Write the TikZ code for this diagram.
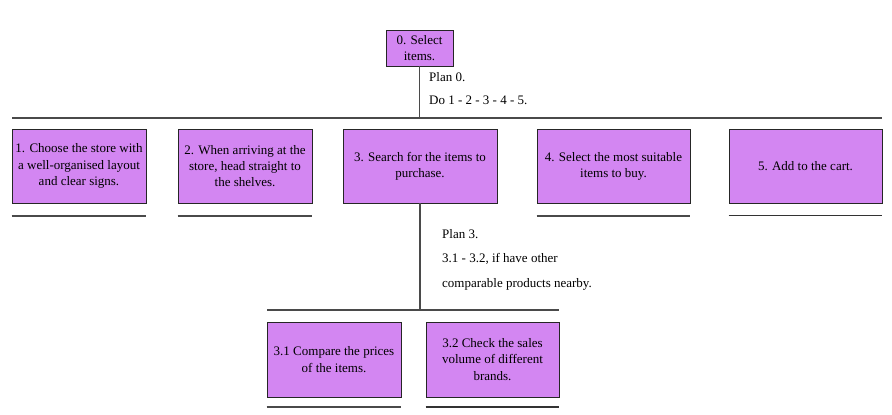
\documentclass[tikz,border=0pt]{standalone}
\usepackage{fontspec}
\setmainfont{Liberation Serif}
\usepackage{xcolor}
\usetikzlibrary{positioning,calc}
\definecolor{taskfill}{HTML}{D386F2}
\definecolor{linegray}{HTML}{4A4A4A}
\tikzset{
    task/.style={draw=black!85, line width=0.8pt, fill=taskfill, align=center, inner sep=1pt,
        minimum height=74pt, font=\fontsize{13}{16.2}\selectfont},
    bus/.style={draw=linegray, line width=2pt},
    stem/.style={draw=linegray, line width=1.4pt},
    underline/.style={draw=linegray, line width=2pt},
    underthin/.style={draw=black!80, line width=1.2pt},
    plan/.style={anchor=base west, align=left, inner sep=0pt}
}

\begin{document}
\begin{tikzpicture}[x=1pt,y=-1pt]
    \useasboundingbox (0,0) rectangle (892,415);

    % top task
    \node[task, minimum width=67pt, minimum height=36pt] (t0) at (419.5,48) {0. Select\\items.};
    \coordinate (bus0l) at (12,117.5);
    \coordinate (bus0r) at (882,117.5);
    \draw[bus] (bus0l) -- (bus0r);
    \draw[stem] (t0.south) -- (t0.south |- bus0l);
    \node[plan, font=\fontsize{13}{23.5}\selectfont] (plan0) at (429,104.5) {Plan 0.\\Do 1 - 2 - 3 - 4 - 5.};

    % subtasks
    \node[task, minimum width=134pt] (t1) at (79,166) {1. Choose the store with\\a well-organised layout\\and clear signs.};
    \node[task, minimum width=134pt] (t2) at (245,166) {2. When arriving at the\\store, head straight to\\the shelves.};
    \node[task, minimum width=154pt] (t3) at (420,166) {3. Search for the items to\\purchase.};
    \node[task, minimum width=153pt] (t4) at (613.5,166) {4. Select the most suitable\\items to buy.};
    \node[task, minimum width=153pt] (t5) at (805.5,166) {5. Add to the cart.};

    % plan 3
    \coordinate (bus3l) at (267,310);
    \coordinate (bus3r) at (559,310);
    \draw[bus] (bus3l) -- (bus3r);
    \draw[stem] (t3.south) -- (t3.south |- bus3l);
    \node[plan, font=\fontsize{13}{24.5}\selectfont] (plan3) at (442,287) {Plan 3.\\3.1 - 3.2, if have other\\comparable products nearby.};

    \node[task, minimum width=134pt, minimum height=75pt] (t31) at (334,359.5) {3.1 Compare the prices\\of the items.};
    \node[task, minimum width=133pt, minimum height=75pt] (t32) at (492.5,359.5) {3.2 Check the sales\\volume of different\\brands.};

    % underlines
    \foreach \t in {t1,t2,t4}
        \draw[underline] ([yshift=-13pt]\t.south west) -- ([yshift=-13pt]\t.south east);
    \draw[underthin] ([yshift=-12pt]t5.south west) -- ([yshift=-12pt]t5.south east);
    \draw[underline] ([yshift=-10pt]t31.south west) -- ([yshift=-10pt]t31.south east);
    \draw[underthin] ([yshift=-9.5pt]t32.south west) -- ([yshift=-9.5pt]t32.south east);
\end{tikzpicture}
\end{document}
